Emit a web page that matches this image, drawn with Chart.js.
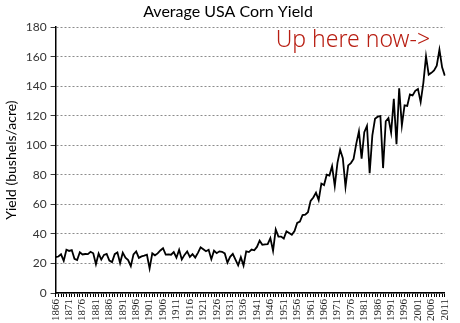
<!DOCTYPE html>
<html>
<head>
<meta charset="utf-8">
<script src="https://cdn.jsdelivr.net/npm/chart.js@4"></script>
<style>
  html, body { margin: 0; padding: 0; background: #fff; }
  #wrap { width: 460px; height: 323px; }
</style>
</head>
<body>
<div id="wrap"><canvas id="cornChart"></canvas></div>
<script>
const years = [];
for (let y = 1866; y <= 2011; y++) years.push(y);

const yieldValues = [
  24.3, 24.7, 26.2, 21.8, 29.3, 28.5, 29.1, 23.2, 22.3, 27.6,
  26.1, 26.4, 26.3, 27.9, 26.9, 19.5, 26.7, 22.6, 25.8, 26.5,
  22.0, 20.9, 26.3, 27.5, 20.3, 27.3, 23.9, 22.3, 18.2, 26.2,
  28.2, 23.8, 24.8, 25.3, 25.9, 16.7, 26.8, 25.5, 26.8, 28.8,
  30.3, 26.0, 26.2, 25.9, 27.7, 23.9, 29.2, 22.7, 25.8, 28.2,
  24.4, 26.3, 24.0, 27.2, 30.9, 29.6, 28.3, 29.3, 22.9, 28.7,
  27.0, 28.2, 27.9, 26.8, 20.5, 24.5, 26.5, 22.6, 18.7, 24.2,
  18.6, 28.2, 27.7, 29.4, 28.9, 31.2, 35.4, 32.6, 33.0, 33.1,
  37.2, 28.6, 43.0, 38.2, 38.2, 36.9, 41.8, 40.7, 39.4, 42.0,
  47.4, 48.3, 52.8, 53.1, 54.7, 62.4, 64.7, 67.9, 62.9, 74.1,
  73.1, 80.1, 79.5, 85.9, 72.4, 88.1, 97.0, 91.3, 71.9, 86.4,
  88.0, 90.8, 101.0, 109.5, 91.0, 108.9, 113.2, 81.1, 106.7, 118.0,
  119.4, 119.8, 84.6, 116.3, 118.5, 108.6, 131.5, 100.7, 138.6, 113.5,
  127.1, 126.7, 134.4, 133.8, 136.9, 138.2, 129.3, 142.2, 160.3, 147.9,
  149.1, 150.7, 153.9, 164.7, 152.8, 147.2
];

const yTicks = [0, 20, 40, 60, 80, 100, 120, 140, 160, 180];
const noteText = 'Up here now->';
const noteYear = 1948;
const noteValue = 171;

// handwritten note in the upper right
const notePlugin = {
  id: 'note',
  afterDraw(chart) {
    const ctx = chart.ctx;
    const x = chart.scales.x.getPixelForValue(years.indexOf(noteYear));
    const y = chart.scales.y.getPixelForValue(noteValue);
    ctx.save();
    ctx.font = '300 23px "Noto Sans"';
    ctx.fillStyle = '#b81e12';
    ctx.textAlign = 'left';
    ctx.textBaseline = 'middle';
    ctx.fillText(noteText, x, y);
    ctx.restore();
  }
};

new Chart(document.getElementById('cornChart'), {
  type: 'line',
  data: {
    labels: years,
    datasets: [{
      data: yieldValues,
      borderColor: '#000',
      borderWidth: 1.8,
      pointRadius: 0,
      tension: 0,
      fill: false
    }]
  },
  options: {
    responsive: true,
    maintainAspectRatio: false,
    animation: false,
    layout: { padding: { left: 1, right: 5, top: 0, bottom: 0 } },
    plugins: {
      legend: { display: false },
      tooltip: { enabled: false },
      title: {
        display: true,
        text: 'Average USA Corn Yield',
        color: '#000',
        font: { family: 'Lato', size: 16, weight: 'normal' },
        padding: { top: 2, bottom: 6 }
      }
    },
    scales: {
      x: {
        offset: false,
        border: { color: '#000', width: 1.5 },
        grid: { drawOnChartArea: false, tickLength: 4, tickColor: '#000', tickWidth: 1 },
        ticks: {
          autoSkip: false,
          minRotation: 90,
          maxRotation: 90,
          padding: 2,
          color: '#222',
          font: { family: 'Liberation Serif', size: 11 },
          callback: (v, i) => (i % 5 === 0 ? String(years[i]) : '')
        }
      },
      y: {
        min: 0,
        max: 180,
        afterBuildTicks: axis => { axis.ticks = yTicks.map(v => ({ value: v })); },
        border: { color: '#000', width: 1.5, dash: [2, 2] },
        grid: {
          color: '#8c8c8c',
          lineWidth: 1,
          tickLength: 5,
          tickColor: '#000',
          tickWidth: 1,
          tickBorderDash: [1, 0]
        },
        ticks: {
          padding: 4,
          color: '#333',
          font: { family: 'Lato', size: 12 }
        },
        title: {
          display: true,
          text: 'Yield (bushels/acre)',
          color: '#000',
          font: { family: 'Lato', size: 14 },
          padding: 2
        }
      }
    }
  },
  plugins: [notePlugin]
});
</script>
</body>
</html>
